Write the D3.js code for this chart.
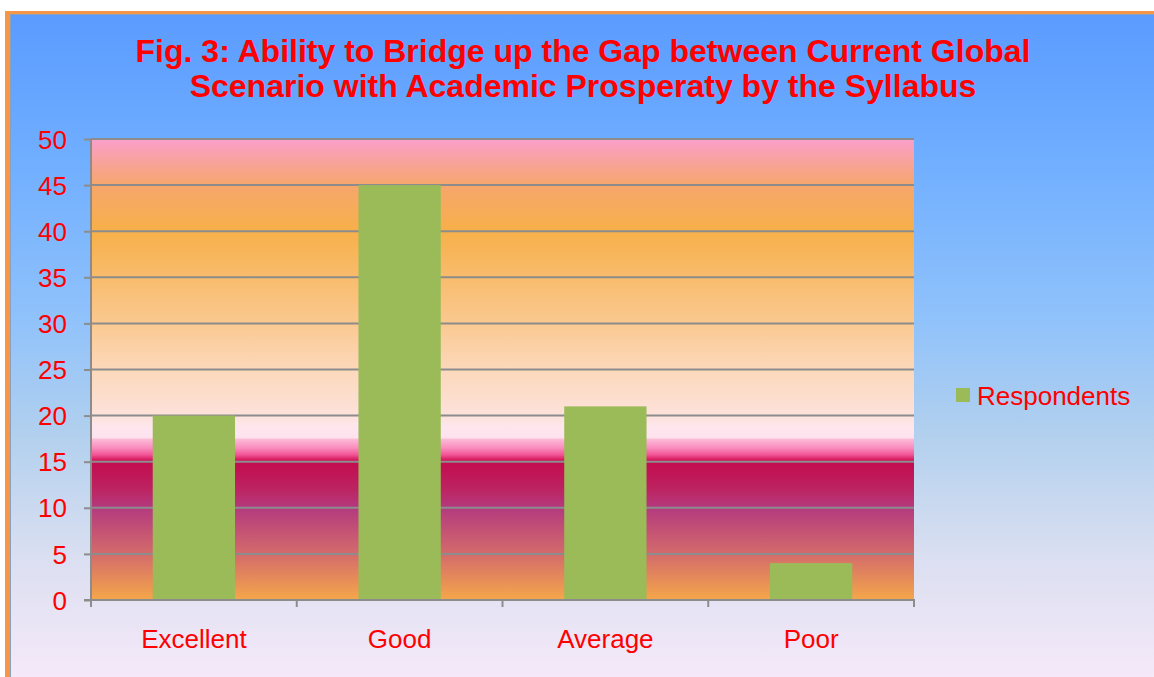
<!DOCTYPE html>
<html>
<head>
<meta charset="utf-8">
<script src="https://cdn.jsdelivr.net/npm/d3@7"></script>
<style>
  body { margin: 0; background: #fff; }
  svg { display: block; font-family: "Liberation Sans", Arial, sans-serif; }
</style>
</head>
<body>
<div id="chart"></div>
<script>
const categories = ['Excellent', 'Good', 'Average', 'Poor'];
const respondents = [20, 45, 21, 4];
const yTicks = [0, 5, 10, 15, 20, 25, 30, 35, 40, 45, 50];
const titleLines = [
  'Fig. 3: Ability to Bridge up the Gap between Current Global',
  'Scenario with Academic Prosperaty by the Syllabus'
];
const seriesName = 'Respondents';

const W = 1154, H = 677;
const plot = { left: 91, right: 914, top: 139, bottom: 600 };

const svg = d3.select('#chart').append('svg')
  .attr('width', W).attr('height', H);

const defs = svg.append('defs');

// chart background: blue at top fading to pale lilac
const bg = defs.append('linearGradient').attr('id', 'bg')
  .attr('x1', 0).attr('y1', 0).attr('x2', 0).attr('y2', 1);
[[0, '#5b9bff'], [0.2, '#6eadff'], [0.45, '#90c2fb'], [0.62, '#b2d0ee'],
 [0.8, '#dadff1'], [1, '#f9eaf9']].forEach(([o, c]) =>
  bg.append('stop').attr('offset', o).attr('stop-color', c));

// plot area gradient
const pg = defs.append('linearGradient').attr('id', 'pg')
  .attr('x1', 0).attr('y1', 0).attr('x2', 0).attr('y2', 1);
[[0, '#fa9fcb'], [0.1, '#f6a66c'], [0.2, '#f7b04a'], [0.3, '#f8bc6c'],
 [0.4, '#fac990'], [0.5, '#fcd8bb'], [0.6, '#fde2da'], [0.625, '#fee6ee'],
 [0.648, '#fde2ee'], [0.652, '#fcb8d6'], [0.67, '#f98cbe'], [0.685, '#f25596'],
 [0.695, '#d91e62'], [0.702, '#c30c4f'], [0.76, '#bc2462'], [0.8, '#b43a7e'],
 [0.9, '#d36b6b'], [1, '#f5a74a']].forEach(([o, c]) =>
  pg.append('stop').attr('offset', o).attr('stop-color', c));

// outer frame
svg.append('rect').attr('x', 5).attr('y', 11).attr('width', W).attr('height', H)
  .attr('fill', '#f79646');
svg.append('rect').attr('x', 10).attr('y', 14).attr('width', W).attr('height', H)
  .attr('fill', '#8aa0c0');
svg.append('rect').attr('x', 11).attr('y', 15).attr('width', W).attr('height', H)
  .attr('fill', 'url(#bg)');

// title
svg.append('text')
  .attr('x', 583).attr('y', 62)
  .attr('text-anchor', 'middle')
  .attr('fill', '#ff0000')
  .attr('font-size', 32).attr('font-weight', 'bold')
  .selectAll('tspan').data(titleLines).enter().append('tspan')
  .attr('x', 583).attr('dy', (d, i) => i === 0 ? 0 : 34.5)
  .text(d => d);

const x = d3.scaleBand().domain(categories)
  .range([plot.left, plot.right]).paddingInner(0.6).paddingOuter(0.3);
const xb = d3.scaleBand().domain(categories).range([plot.left, plot.right]);
const y = d3.scaleLinear().domain([0, 50]).range([plot.bottom, plot.top]);

svg.append('rect')
  .attr('x', plot.left).attr('y', plot.top)
  .attr('width', plot.right - plot.left).attr('height', plot.bottom - plot.top)
  .attr('fill', 'url(#pg)');

// gridlines
svg.append('g').selectAll('line').data(yTicks.filter(d => d > 0)).enter().append('line')
  .attr('x1', plot.left).attr('x2', plot.right)
  .attr('y1', d => y(d)).attr('y2', d => y(d))
  .attr('stroke', '#8c8c8c').attr('stroke-width', 2);

// bars
svg.append('g').selectAll('rect').data(respondents).enter().append('rect')
  .attr('x', (d, i) => x(categories[i]))
  .attr('width', x.bandwidth())
  .attr('y', d => y(d))
  .attr('height', d => y(0) - y(d))
  .attr('fill', '#9bbb59');

// y axis
const yAxis = svg.append('g')
  .attr('transform', `translate(${plot.left},0)`)
  .call(d3.axisLeft(y).tickValues(yTicks).tickSize(7).tickPadding(17));
yAxis.select('.domain').attr('stroke', '#8c8c8c').attr('stroke-width', 2)
  .attr('d', `M0,${plot.top}V${plot.bottom}`);
yAxis.selectAll('.tick line').attr('stroke', '#8c8c8c').attr('stroke-width', 2);
yAxis.selectAll('.tick text').attr('fill', '#ff0000')
  .attr('font-size', 26).attr('font-family', '"Liberation Sans", Arial, sans-serif')
  .attr('dy', '0.35em');

// x axis with ticks at category boundaries
const xAxis = svg.append('g').attr('transform', `translate(0,${plot.bottom})`);
xAxis.append('line')
  .attr('x1', plot.left - 7).attr('x2', plot.right + 1)
  .attr('stroke', '#8c8c8c').attr('stroke-width', 2);
const bounds = categories.map(c => xb(c)).concat([xb.range()[1]]);
xAxis.selectAll('.xt').data(bounds).enter().append('line')
  .attr('class', 'xt')
  .attr('x1', d => d).attr('x2', d => d)
  .attr('y1', 0).attr('y2', 7)
  .attr('stroke', '#8c8c8c').attr('stroke-width', 2);
xAxis.selectAll('text').data(categories).enter().append('text')
  .attr('x', d => xb(d) + xb.bandwidth() / 2)
  .attr('y', 48)
  .attr('text-anchor', 'middle')
  .attr('fill', '#ff0000').attr('font-size', 26)
  .text(d => d);

// legend
const lg = svg.append('g').attr('transform', 'translate(956,388)');
lg.append('rect').attr('width', 14).attr('height', 14).attr('fill', '#9bbb59');
lg.append('text').attr('x', 21).attr('y', 17)
  .attr('fill', '#ff0000').attr('font-size', 26)
  .text(seriesName);
</script>
</body>
</html>
